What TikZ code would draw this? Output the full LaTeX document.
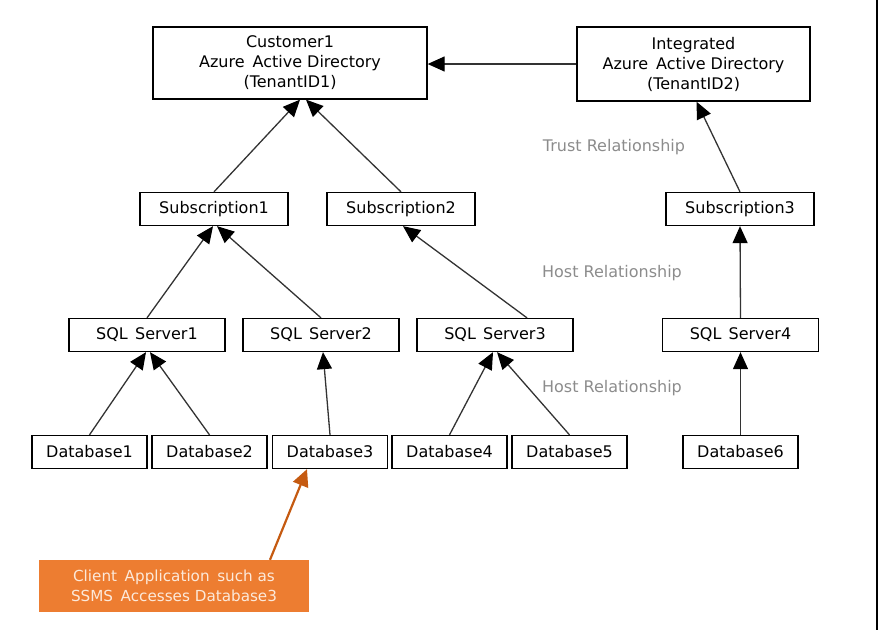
\documentclass[tikz,border=0pt]{standalone}
\usepackage{fontspec}
\setmainfont{DejaVu Sans}
\usepackage{tikz}
\usetikzlibrary{arrows.meta}

\definecolor{relgray}{HTML}{8C8C8C}
\definecolor{clientfill}{HTML}{ED7D31}
\definecolor{clientarrow}{HTML}{C55A11}
\definecolor{clienttext}{HTML}{FCE9DA}

\begin{document}
\begin{tikzpicture}[x=1pt,y=-1pt,
        font=\fontsize{16}{20}\selectfont,
        box/.style={draw,line width=1.3pt,inner sep=0pt,minimum height=33pt,align=center},
        subbox/.style={box,minimum width=148pt},
        sqlbox/.style={box,minimum width=156pt},
        dbbox/.style={box,minimum width=115pt},
        conn/.style={line width=1.3pt,draw=black!80,
            -{Triangle[length=17pt,width=15pt,color=black]}},
        rel/.style={text=relgray}]

    \useasboundingbox (0,0) rectangle (880,630);
    \draw[line width=2pt] (877,0) -- (877,630);

    \node[box,minimum width=274pt,minimum height=72pt] (cust) at (290,63)
        {Customer1\\Azure\hspace{0.5em}Active Directory\\(TenantID1)};
    \node[box,minimum width=233pt,minimum height=74pt] (int) at (693.5,64)
        {Integrated\\Azure\hspace{0.5em}Active Directory\\(TenantID2)};

    \node[subbox] (sub1) at (214,209) {Subscription1};
    \node[subbox] (sub2) at (401,209) {Subscription2};
    \node[subbox] (sub3) at (740,209) {Subscription3};

    \node[sqlbox] (sql1) at (147,335) {SQL\hspace{0.45em}Server1};
    \node[sqlbox] (sql2) at (321,335) {SQL\hspace{0.45em}Server2};
    \node[sqlbox] (sql3) at (495,335) {SQL\hspace{0.45em}Server3};
    \node[sqlbox] (sql4) at (740.5,335) {SQL\hspace{0.45em}Server4};

    \foreach \i/\x in {1/89.5,2/209.5,3/330,4/449.5,5/569.5,6/740.5}
        \node[dbbox] (db\i) at (\x,452) {Database\i};

    \node[rel] (trust) at (614,147) {Trust Relationship};
    \node[rel] (host1) at (612,273) {Host Relationship};
    \node[rel] (host2) at (612,388) {Host Relationship};

    \node[fill=clientfill,text=clienttext,minimum width=270pt,minimum height=52pt,
          inner sep=0pt,align=center,font=\fontsize{15.2}{20}\selectfont] (client) at (174,586)
        {Client\hspace{0.5em}Application\hspace{0.5em}such as\\SSMS\hspace{0.5em}Accesses Database3};

    \draw[conn] (int.west) -- (cust.east |- int.west);
    \draw[conn] (sub1.north) -- ([xshift=10]cust.south);
    \draw[conn] (sub2.north) -- ([xshift=16]cust.south);
    \draw[conn] (sub3.north) -- ([xshift=3]int.south);

    \draw[conn] (sql1.north) -- ([xshift=-1]sub1.south);
    \draw[conn] (sql2.north) -- ([xshift=3]sub1.south);
    \draw[conn] ([xshift=32]sql3.north) -- ([xshift=2]sub2.south);
    \draw[conn] (sql4.north) -- (sub3.south);

    \draw[conn] (db1.north) -- ([xshift=-1]sql1.south);
    \draw[conn] (db2.north) -- ([xshift=3]sql1.south);
    \draw[conn] (db3.north) -- ([xshift=2]sql2.south);
    \draw[conn] (db4.north) -- ([xshift=-2]sql3.south);
    \draw[conn] (db5.north) -- ([xshift=2]sql3.south);
    \draw[conn] (db6.north) -- (sql4.south);

    \draw[line width=2.2pt,draw=clientarrow,-{Triangle[length=17pt,width=16pt]}]
        ([xshift=96]client.north) -- ([xshift=-23]db3.south);
\end{tikzpicture}
\end{document}
